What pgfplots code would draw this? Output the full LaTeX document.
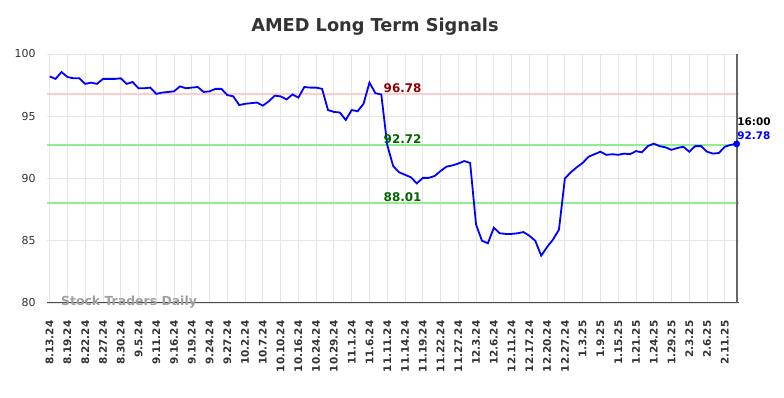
\documentclass[border=0pt]{standalone}
\usepackage{fontspec}
\setmainfont{DejaVu Sans}
\usepackage{pgfplots}
\pgfplotsset{compat=1.18}
\definecolor{titlegray}{HTML}{333333}
\definecolor{gridgray}{HTML}{E6E6E6}
\definecolor{redline}{HTML}{FFCCCC}
\definecolor{greenline}{HTML}{90EE90}
\definecolor{darkred}{HTML}{8B0000}
\definecolor{darkgreen}{HTML}{006400}
\pgfplotstableread{
i v
0 98.2
1 98.0
2 98.55
3 98.15
4 98.05
5 98.05
6 97.6
7 97.7
8 97.6
9 98.0
10 98.0
11 98.0
12 98.05
13 97.6
14 97.75
15 97.25
16 97.25
17 97.3
18 96.8
19 96.9
20 96.95
21 97.0
22 97.4
23 97.25
24 97.3
25 97.35
26 96.95
27 97.0
28 97.2
29 97.2
30 96.7
31 96.6
32 95.9
33 96.0
34 96.05
35 96.1
36 95.85
37 96.2
38 96.65
39 96.6
40 96.35
41 96.75
42 96.5
43 97.35
44 97.3
45 97.3
46 97.2
47 95.5
48 95.35
49 95.3
50 94.7
51 95.5
52 95.4
53 96.0
54 97.7
55 96.85
56 96.75
57 92.7
58 91.0
59 90.5
60 90.3
61 90.1
62 89.6
63 90.05
64 90.05
65 90.2
66 90.6
67 90.95
68 91.05
69 91.2
70 91.4
71 91.25
72 86.3
73 85.0
74 84.8
75 86.05
76 85.6
77 85.55
78 85.55
79 85.6
80 85.7
81 85.4
82 85.0
83 83.8
84 84.5
85 85.1
86 85.9
87 90.0
88 90.5
89 90.9
90 91.25
91 91.75
92 91.95
93 92.15
94 91.9
95 91.95
96 91.9
97 92.0
98 91.95
99 92.2
100 92.1
101 92.6
102 92.8
103 92.6
104 92.5
105 92.3
106 92.45
107 92.55
108 92.15
109 92.6
110 92.6
111 92.15
112 92.0
113 92.05
114 92.55
115 92.7
116 92.78
}\sig
\begin{document}
\begin{tikzpicture}
\path[use as bounding box] (0,0) rectangle (784bp,398bp);
\begin{axis}[
  at={(47bp,95bp)}, anchor=south west,
  scale only axis, width=692bp, height=249bp,
  xmin=-0.45, xmax=116.4, ymin=80, ymax=100,
  ytick={80,85,90,95,100},
  xtick={0,3,...,114},
  xticklabels={8.13.24,8.19.24,8.22.24,8.27.24,8.30.24,9.5.24,9.11.24,9.16.24,9.19.24,9.24.24,9.27.24,10.2.24,10.7.24,10.10.24,10.16.24,10.24.24,10.29.24,11.1.24,11.6.24,11.11.24,11.14.24,11.19.24,11.22.24,11.27.24,12.3.24,12.6.24,12.11.24,12.17.24,12.20.24,12.27.24,1.3.25,1.9.25,1.15.25,1.21.25,1.24.25,1.29.25,2.3.25,2.6.25,2.11.25},
  grid=major, grid style={draw=gridgray, line width=0.9bp},
  axis line style={draw=none},
  major tick length=0pt,
  /pgf/number format/assume math mode=true,
  yticklabel style={font=\fontsize{11}{13}\selectfont, text=titlegray, xshift=-8bp},
  xticklabel style={font=\bfseries\fontsize{10.5}{12}\selectfont, text=titlegray, yshift=-14bp, rotate=90, anchor=east},
  clip=false,
]
\draw[gray!60!black, line width=1bp] (rel axis cs:0,0) -- (rel axis cs:1,0);
\addplot[redline, line width=2bp] coordinates {(-0.45,96.78) (116.4,96.78)};
\addplot[greenline, line width=2bp] coordinates {(-0.45,92.72) (116.4,92.72)};
\addplot[greenline, line width=2bp] coordinates {(-0.45,88.01) (116.4,88.01)};
\addplot[gray!80!black, line width=2bp] coordinates {(116,80) (116,100)};
\addplot[blue, line width=1.8bp] table[x=i, y=v] {\sig};
\addplot[blue, only marks, mark=*, mark size=3.2bp] coordinates {(116,92.78)};
\node[anchor=south west, inner sep=1bp, text=darkred, font=\bfseries\fontsize{12}{14}\selectfont] at (axis cs:56.2,96.78) {96.78};
\node[anchor=south west, inner sep=1bp, text=darkgreen, font=\bfseries\fontsize{12}{14}\selectfont] at (axis cs:56.2,92.72) {92.72};
\node[anchor=south west, inner sep=1bp, text=darkgreen, font=\bfseries\fontsize{12}{14}\selectfont] at (axis cs:56.2,88.01) {88.01};
\node[anchor=south west, inner sep=0.5bp, text=blue, font=\bfseries\fontsize{10.5}{12}\selectfont] at ([yshift=4bp]axis cs:116,92.78) {92.78};
\node[anchor=south west, inner sep=0.5bp, text=black, font=\bfseries\fontsize{10.5}{12}\selectfont] at ([yshift=18bp]axis cs:116,92.78) {16:00};
\node[anchor=west, inner sep=0pt, text=gray!75, font=\bfseries\fontsize{12.5}{14}\selectfont] at (axis cs:1.9,80.1) {Stock Traders Daily};
\end{axis}
\node[text=titlegray, font=\bfseries\fontsize{17.8}{21}\selectfont] at (375bp,371bp) {AMED Long Term Signals};
\end{tikzpicture}
\end{document}
